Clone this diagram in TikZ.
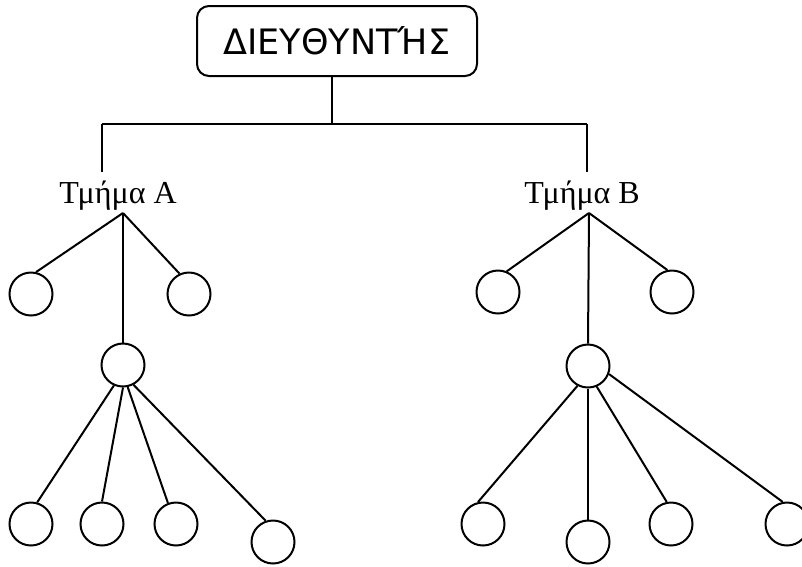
\documentclass[tikz,border=0pt]{standalone}
\usepackage{fontspec}
\setmainfont{Liberation Serif}
\newfontfamily\titlefont{DejaVu Sans}
\begin{document}
\begin{tikzpicture}[x=1pt,y=-1pt,line width=2pt,
  leaf/.style={circle,draw,minimum size=43pt,inner sep=0pt},
  dept/.style={inner sep=0pt,font=\fontsize{32}{36}\selectfont},
  titlebox/.style={draw,rounded corners=12pt,minimum width=280pt,minimum height=70pt,inner sep=0pt,font=\titlefont\fontsize{35}{40}\selectfont}]
\useasboundingbox (0,0) rectangle (802,566);
% title
\node[titlebox] (dir) at (337,41) {ΔΙΕΥΘΥΝΤΉΣ};
\coordinate (top) at (332,124);
\coordinate (L) at (102,124);
\coordinate (R) at (587,124);
\coordinate (La) at (102,172);
\coordinate (Ra) at (587,172);
\draw (dir.south -| top) -- (top);
\draw (L) -- (R);
\draw (L) -- (La);
\draw (R) -- (Ra);
% departments
\node[dept] (ta) at (118,196) {Τμήμα Α};
\node[dept] (tb) at (582,196) {Τμήμα Β};
\coordinate (fa) at (123,213);
\coordinate (fb) at (589,213);
% left tree
\node[leaf] (a1) at (31,294) {};
\node[leaf] (a2) at (189,294) {};
\node[leaf] (am) at (123,365) {};
\node[leaf] (a3) at (31,524) {};
\node[leaf] (a4) at (102,524) {};
\node[leaf] (a5) at (176,524) {};
\node[leaf] (a6) at (273,542) {};
\draw (fa) -- (a1.77);
\draw (fa) -- (a2.115);
\draw (fa) -- (am.north);
\draw (am.246) -- (a3.74);
\draw (am.270) -- (a4.90);
\draw (am.282) -- (a5.111);
\draw (am.298) -- (a6.109);
% right tree
\node[leaf] (b1) at (498,292) {};
\node[leaf] (b2) at (672,292) {};
\node[leaf] (bm) at (588,366) {};
\node[leaf] (b3) at (483,524) {};
\node[leaf] (b4) at (588,542) {};
\node[leaf] (b5) at (671,524) {};
\node[leaf] (b6) at (787,524) {};
\draw (fb) -- (b1.67);
\draw (fb) -- (b2.102);
\draw (fb) -- (bm.north);
\draw (bm.242) -- (b3.103);
\draw (bm.270) -- (b4.90);
\draw (bm.293) -- (b5.101);
\draw (bm.339) -- (b6.101);
\end{tikzpicture}
\end{document}
